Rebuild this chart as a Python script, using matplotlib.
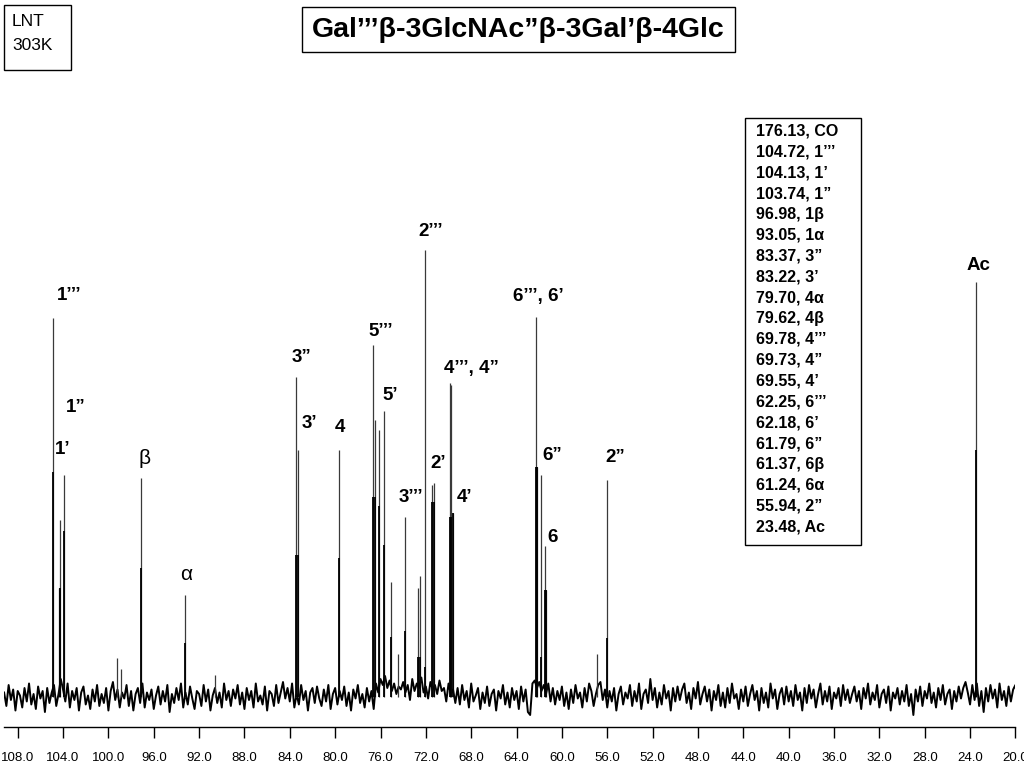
import numpy as np
import matplotlib
matplotlib.use('Agg')
import matplotlib.pyplot as plt
from matplotlib.patches import Rectangle

plt.rcParams['font.family'] = ['Liberation Sans', 'DejaVu Sans']

# peak list: shift (ppm), full height, height of the dark core
peak_ppm = [104.86, 104.36, 104.30, 103.94, 99.21, 98.89, 97.10, 93.22, 90.60,
            83.45, 83.28, 79.69, 76.63, 76.51, 76.16, 75.72, 75.10, 74.47, 73.84,
            72.72, 72.49, 72.05, 71.43, 71.31, 69.84, 69.75, 69.63, 62.28, 62.22,
            61.84, 61.49, 61.37, 56.87, 56.00, 23.50]
peak_top = [379, 109, 177, 222, 39, 28, 219, 102, 22,
            320, 247, 247, 352, 277, 267, 286, 115, 43, 180,
            109, 121, 447, 212, 214, 314, 312, 184, 380, 230,
            222, 151, 107, 43, 217, 415]
peak_core = [225, 0, 109, 166, 0, 0, 129, 54, 0,
             142, 142, 139, 200, 200, 191, 152, 60, 0, 66,
             40, 40, 30, 195, 195, 180, 180, 184, 230, 230,
             40, 107, 107, 0, 59, 247]

# baseline noise (pixel units of the scan), read across the window from 109.2 to 19.4 ppm
noise = [3, -6, 8, -2, 5, -9, 4, 1, -7, 6, -3, 9, -5, 2, -8, 7, -1, 4, -10, 6, -4, 3, 8, -6, 2,
         12, 5, -3, 9, -7, 4, -2, 6, -9, 3, 7, -5, 1, -8, 5, -3, 8, -6, 2, -4, 6, -9, 4, 10, -2,
         5, -7, 3, -1, 8, -6, 4, -9, 2, 6, -4, 9, -7, 3, -2, 5, -8, 1, 7, -5, 4, -3, 8, -10, 2,
         -4, 6, -2, 9, -7, 3, -5, 7, -1, -8, 4, 2, -6, 8, -3, 5, -9, 1, 6, -4, 3, -7, 9, -2, 4,
         -6, 5, -1, 8, -5, 3, -8, 6, -2, 4, -7, 9, -3, 1, -5, 7, -9, 4, 2, -6, 8, -4, 3, 10, -1,
         6, -3, 9, -7, 2, -5, 8, -2, 4, -9, 3, 6, -4, 7, -1, -6, 5, -3, 8, -8, 2, 6, -5, 4, -2,
         7, -6, 3, -9, 5, -1, 8, -4, 2, -7, 6, -3, 4, -8, 9, 3, 12, 8, 14, 6, 11, 4, 9, 2, 7,
         5, 10, 3, 8, -2, 12, 4, 9, 6, 13, 3, 7, -1, 10, 5, 8, 2, 11, 4, 6, -3, 9, 2, 5, -4,
         6, -5, 8, -2, 4, -7, 9, -3, 1, 6, -8, 3, -4, 7, -6, 2, 5, -9, 4, -1, 8, -5, 3, -7, 6,
         -2, 4, -8, 7, -3, 5, -10, -12, 9, 11, 6, 10, 4, 8, 2, 9, -3, 6, -5, 4, -2, 7, -6, 3, -8,
         5, -4, 8, -1, 3, -7, 6, -3, 9, 4, -6, 2, 8, 10, -2, 5, -7, 4, -3, 6, -9, 2, 7, -5, 3,
         -1, 8, -6, 4, -3, 9, -8, 2, 5, -4, 12, -2, 6, -7, 3, -5, 8, -1, 4, -9, 6, -3, 7, -2, 5,
         9, -4, 3, -8, 6, -1, 10, -5, 2, 7, -3, 5, -9, 4, -2, 8, -6, 3, -7, 6, -4, 9, -1, 2, -8,
         5, -3, 7, -6, 2, 8, -2, 4, -9, 6, -4, 3, -7, 9, -1, 5, -8, 2, 6, -5, 7, -3, 4, -6, 8,
         -2, 3, -9, 6, -4, 8, -1, 5, -7, 2, 9, -5, 4, -3, 7, -8, 3, -1, 6, -6, 8, -2, 5, -4, 2,
         7, -3, 4, -8, 6, -1, 9, -5, 3, -2, 8, -7, 2, 5, -4, 7, -9, 3, -1, 6, -5, 4, -3, 8, -6,
         2, -12, 5, -3, 7, -6, 4, -1, 9, -4, 3, -7, 6, -2, 8, -5, 2, 5, -8, 4, -3, 7, -1, 6, 10,
         3, -5, 8, -2, 9, -6, 4, -10, 6, -3, 8, -1, 5, -7, 9, -2, 4, -6, 7, -3, 5, 8, -4, 6, -2]
noise_gain = 1.5   # the band in the scan is a bit wider than the values typed above

# peak labels (text, ppm, height)
lab_text = ['1\u2019\u2019\u2019', '1\u201d', '1\u2019', '\u03b2', '\u03b1',
            '3\u201d', '3\u2019', '4', '5\u2019\u2019\u2019', '5\u2019',
            '3\u2019\u2019\u2019', '2\u2019\u2019\u2019', '2\u2019', '4\u2019\u2019\u2019, 4\u201d', '4\u2019',
            '6\u2019\u2019\u2019, 6\u2019', '6\u201d', '6', '2\u201d', 'Ac']
lab_ppm = [103.47, 102.86, 104.0, 96.77, 93.16,
           83.01, 82.30, 79.57, 75.95, 75.16,
           73.31, 71.55, 70.94, 67.94, 68.55,
           62.10, 60.87, 60.78, 55.31, 23.3]
lab_y = [402, 289, 247, 238, 122,
         339, 273, 269, 366, 301,
         200, 465, 233, 329, 200,
         401, 242, 160, 240, 432]

shifts = ['176.13, CO', '104.72, 1\u2019\u2019\u2019', '104.13, 1\u2019', '103.74, 1\u201d',
          '96.98, 1\u03b2', '93.05, 1\u03b1', '83.37, 3\u201d', '83.22, 3\u2019',
          '79.70, 4\u03b1', '79.62, 4\u03b2', '69.78, 4\u2019\u2019\u2019', '69.73, 4\u201d',
          '69.55, 4\u2019', '62.25, 6\u2019\u2019\u2019', '62.18, 6\u2019', '61.79, 6\u201d',
          '61.37, 6\u03b2', '61.24, 6\u03b1', '55.94, 2\u201d', '23.48, Ac']

title = 'Gal\u2019\u2019\u2019\u03b2-3GlcNAc\u201d\u03b2-3Gal\u2019\u03b2-4Glc'

W, H = 1024, 768
fig = plt.figure(figsize=(W / 100, H / 100), dpi=100)

x0, x1 = 4.1, 1015.4
ax = fig.add_axes([x0 / W, (H - 727) / H, (x1 - x0) / W, (727 - 100) / H])

noise_ppm = np.linspace(109.2, 19.4, len(noise))
ax.plot(noise_ppm, np.array(noise) * noise_gain, color='black', lw=1.4)

ax.vlines(peak_ppm, 0, peak_top, color='#3a3a3a', lw=0.9)
core = [(p, c) for p, c in zip(peak_ppm, peak_core) if c > 0]
ax.vlines([p for p, c in core], 0, [c for p, c in core], color='black', lw=1.3)

for t, p, y in zip(lab_text, lab_ppm, lab_y):
    greek = t in ('\u03b1', '\u03b2')
    ax.text(p, y, t, ha='center', va='center', fontsize=15 if greek else 13.5,
            fontweight='normal' if greek else 'bold')

ax.set_xlim(109.2, 20.0)
ax.set_ylim(-30, 597)
ticks = np.arange(108, 19, -4)
ax.set_xticks(ticks)
ax.set_xticklabels(['%.1f' % v for v in ticks], fontsize=9.5)
ax.tick_params(axis='x', direction='out', length=8, width=1, pad=10)
ax.set_yticks([])
for s in ('top', 'left', 'right'):
    ax.spines[s].set_visible(False)
ax.spines['bottom'].set_linewidth(1)
ax.patch.set_alpha(0)

# shift table box
fig.patches.append(Rectangle((745 / W, 1 - 545 / H), 116 / W, 427 / H,
                             transform=fig.transFigure, fill=False, lw=1, ec='black'))
for i, s in enumerate(shifts):
    fig.text(756 / W, 1 - (131 + i * 20.84) / H, s, ha='left', va='center',
             fontsize=11.5, fontweight='bold')

# title box
fig.patches.append(Rectangle((302 / W, 1 - 52 / H), 433 / W, 45 / H,
                             transform=fig.transFigure, fill=False, lw=1, ec='black'))
fig.text(518 / W, 1 - 30 / H, title, ha='center', va='center', fontsize=20.5, fontweight='bold')

# sample box
fig.patches.append(Rectangle((4 / W, 1 - 70 / H), 67 / W, 65 / H,
                             transform=fig.transFigure, fill=False, lw=1, ec='black'))
fig.text(12 / W, 1 - 22 / H, 'LNT', ha='left', va='center', fontsize=12.5)
fig.text(12 / W, 1 - 45 / H, '303K', ha='left', va='center', fontsize=12.5)

fig.savefig('out.png', dpi=100)
